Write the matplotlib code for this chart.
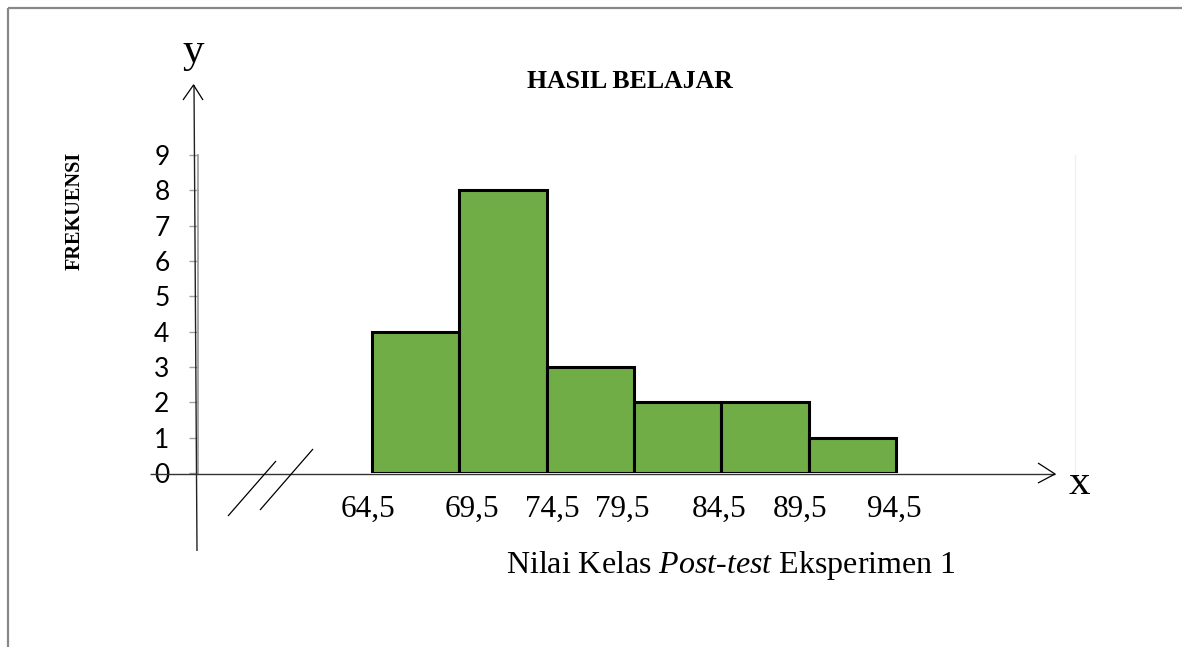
import matplotlib
matplotlib.use('Agg')
import matplotlib.pyplot as plt
from matplotlib.lines import Line2D

plt.rcParams['mathtext.fontset'] = 'custom'
plt.rcParams['mathtext.rm'] = 'Liberation Serif'
plt.rcParams['mathtext.it'] = 'Liberation Serif:italic'

# data
kelas = ['64,5-69,5', '69,5-74,5', '74,5-79,5', '79,5-84,5', '84,5-89,5', '89,5-94,5']
frekuensi = [4, 8, 3, 2, 2, 1]
batas = ['64,5', '69,5', '74,5', '79,5', '84,5', '89,5', '94,5']
y_ticks = [0, 1, 2, 3, 4, 5, 6, 7, 8, 9]

# labels in the original are not exactly on the bar edges
label_shift = [-0.05, 0.14, 0.06, -0.13, -0.02, -0.10, -0.02]

W, H = 1182, 647
fig = plt.figure(figsize=(W / 100, H / 100), dpi=100)

# bar axes, placed in pixels: x from 198 to 1075, y=0 at 473, y=9 at 155
ax = fig.add_axes([198 / W, 1 - 473 / H, (1075 - 198) / W, (473 - 155) / H])
px = 87.33
ax.set_xlim(-(372 - 198) / px, (1075 - 372) / px)
ax.set_ylim(0, 9)

ax.bar(range(len(frekuensi)), frekuensi, width=1, align='edge',
       color='#70AD47', edgecolor='black', linewidth=2.2, zorder=3)

ax.set_yticks(y_ticks)
ax.set_yticklabels([str(v) for v in y_ticks], family='Lato', fontsize=19)
ax.tick_params(axis='y', direction='out', length=6.5, width=1, color='#a0a0a0', pad=14)

ax.set_xticks([i + s for i, s in enumerate(label_shift)])
ax.set_xticklabels(batas, family='Liberation Serif', fontsize=22.5)
ax.tick_params(axis='x', length=0, pad=16)

for side in ['top', 'bottom']:
    ax.spines[side].set_visible(False)
ax.spines['left'].set_color('#a0a0a0')
ax.spines['left'].set_linewidth(1.3)
ax.spines['right'].set_color('#f0f0f0')
ax.spines['right'].set_linewidth(1)

# overlay in pixel coordinates for the hand drawn parts
ov = fig.add_axes([0, 0, 1, 1], facecolor='none')
ov.set_xlim(0, W)
ov.set_ylim(H, 0)
ov.axis('off')

def line(x, y, **kw):
    kw.setdefault('color', 'black')
    kw.setdefault('lw', 1.0)
    ov.add_line(Line2D(x, y, solid_capstyle='butt', **kw))

# frame of the page
line([8, W], [8, 8], color='#888888', lw=1.6)
line([8, 8], [8, H], color='#888888', lw=1.6)

# y arrow
line([194, 197], [85, 551], color='#222222', lw=1.0)
line([183, 193.5, 203], [100, 85, 100], lw=0.9)
# x arrow
line([150, 1055], [474, 474], color='#333333', lw=1.0)
line([1038, 1055, 1038], [463, 474, 483], lw=0.9)

# axis break marks
line([228, 276], [516, 461], lw=0.9)
line([260, 313], [510, 449], lw=0.9)

ov.text(193, 52, 'y', family='Liberation Serif', fontsize=31, ha='center', va='center')
ov.text(1079, 484, 'x', family='Liberation Serif', fontsize=31, ha='center', va='center')
ov.text(630, 82, 'HASIL BELAJAR', family='Liberation Serif', fontweight='bold',
        fontsize=18.5, ha='center', va='center')
ov.text(75, 211, 'FREKUENSI', family='Liberation Serif', fontweight='bold',
        fontsize=14.6, ha='center', va='center', rotation=90)
ov.text(506, 565, 'Nilai Kelas $\\it{Post}$-$\\it{test}$ Eksperimen 1',
        family='Liberation Serif', fontsize=23, ha='left', va='center')

plt.savefig('out.png', dpi=100)
